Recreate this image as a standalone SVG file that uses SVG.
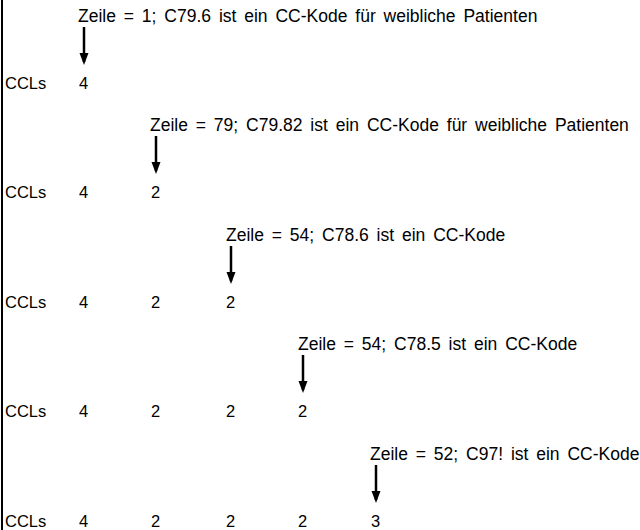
<svg xmlns="http://www.w3.org/2000/svg" width="640" height="530" viewBox="0 0 640 530">
<style>
text{font-family:"Liberation Sans",Arial,sans-serif;font-size:16.5px;fill:#000}
.lbl{font-size:17.5px;word-spacing:3px}
.ar{stroke:#000;stroke-width:2.5;fill:none}
</style>
<defs>
<marker id="ah" markerUnits="userSpaceOnUse" markerWidth="12" markerHeight="16" refX="12" refY="6" orient="auto" viewBox="0 0 16 12">
<path d="M0,0 L16,6 L0,12 Z" fill="#000"/>
</marker>
</defs>
<rect width="640" height="530" fill="#fff"/>
<line x1="2" y1="0" x2="2" y2="530" stroke="#000" stroke-width="2"/>
<g id="row1">
<text class="lbl" x="78" y="22">Zeile = 1; C79.6 ist ein CC-Kode für weibliche Patienten</text>
<text x="5" y="89">CCLs</text><text x="79" y="89">4</text>
</g>
<g id="row2">
<text class="lbl" x="150" y="131">Zeile = 79; C79.82 ist ein CC-Kode für weibliche Patienten</text>
<text x="5" y="198">CCLs</text><text x="79" y="198">4</text><text x="151" y="198">2</text>
</g>
<g id="row3">
<text class="lbl" x="226" y="241">Zeile = 54; C78.6 ist ein CC-Kode</text>
<text x="5" y="308">CCLs</text><text x="79" y="308">4</text><text x="151" y="308">2</text><text x="226" y="308">2</text>
</g>
<g id="row4">
<text class="lbl" x="298" y="350">Zeile = 54; C78.5 ist ein CC-Kode</text>
<text x="5" y="417">CCLs</text><text x="79" y="417">4</text><text x="151" y="417">2</text><text x="226" y="417">2</text><text x="298" y="417">2</text>
</g>
<g id="row5">
<text class="lbl" x="370" y="460">Zeile = 52; C97! ist ein CC-Kode</text>
<text x="5" y="527">CCLs</text><text x="79" y="527">4</text><text x="151" y="527">2</text><text x="226" y="527">2</text><text x="298" y="527">2</text><text x="371" y="527">3</text>
</g>
<g id="connectors">
<line class="ar" x1="84" y1="27" x2="84" y2="62" marker-end="url(#ah)"/>
<line class="ar" x1="156" y1="136" x2="156" y2="171" marker-end="url(#ah)"/>
<line class="ar" x1="231" y1="246" x2="231" y2="281" marker-end="url(#ah)"/>
<line class="ar" x1="303" y1="355" x2="303" y2="390" marker-end="url(#ah)"/>
<line class="ar" x1="376" y1="465" x2="376" y2="500" marker-end="url(#ah)"/>
</g>
</svg>
